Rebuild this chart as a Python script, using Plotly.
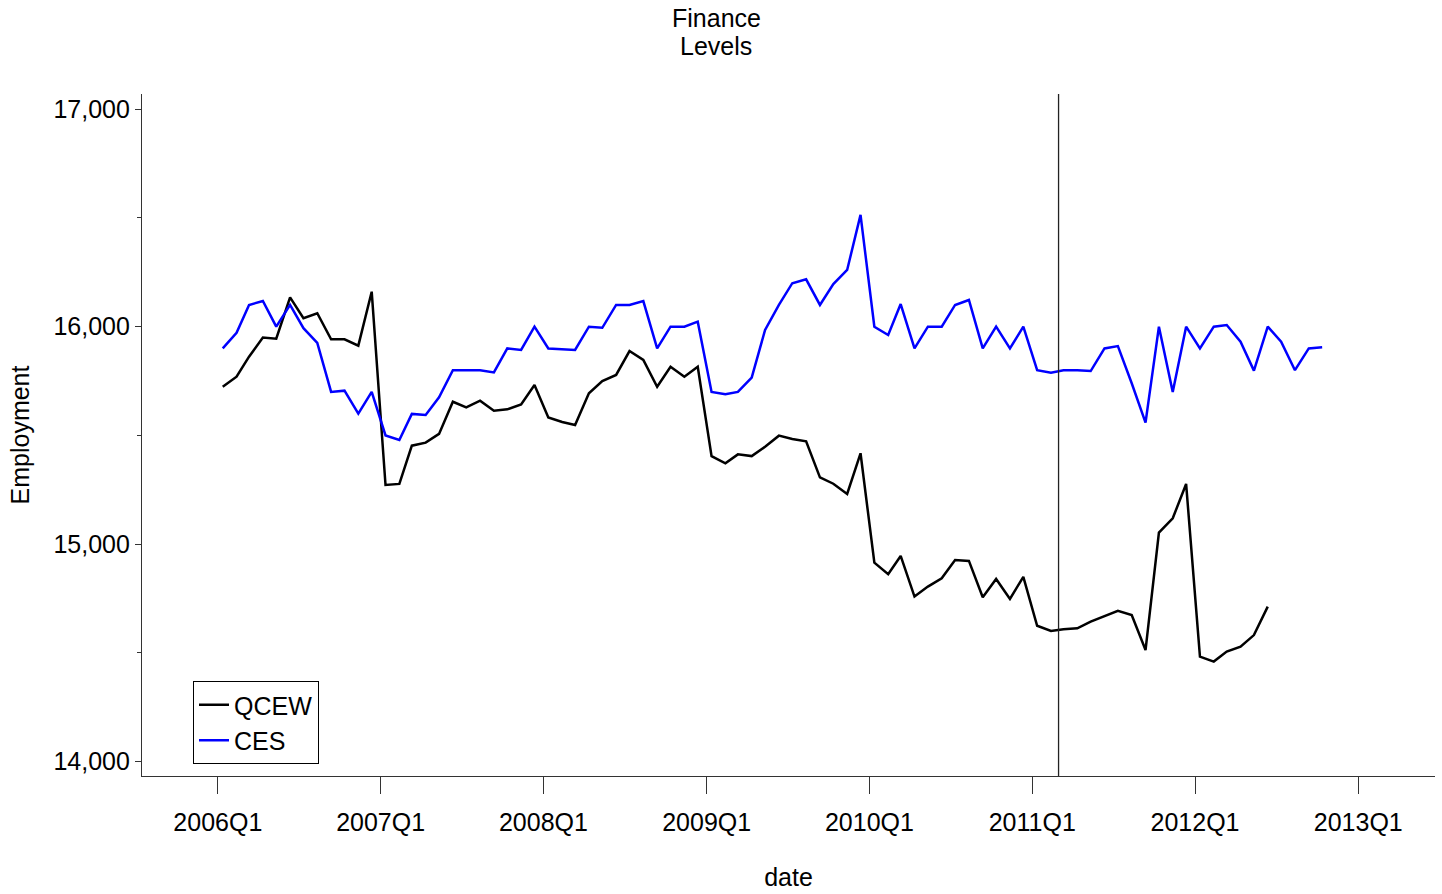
import pandas as pd
import plotly.graph_objects as go

# ---- data (thousands of employees), monthly from 2006m1 ----
qcew = [15724, 15770, 15862, 15950, 15945, 16135, 16039, 16062, 15942, 15942,
        15913, 16161, 15272, 15277, 15453, 15467, 15507, 15655, 15629, 15660,
        15614, 15620, 15643, 15732, 15583, 15562, 15548, 15694, 15750, 15778,
        15888, 15847, 15724, 15816, 15770, 15816, 15405, 15372, 15413, 15405,
        15448, 15499, 15484, 15473, 15307, 15278, 15231, 15418, 14915, 14862,
        14946, 14759, 14805, 14843, 14927, 14923, 14756, 14840, 14748, 14850,
        14625, 14601, 14609, 14613, 14644, 14670, 14694, 14674, 14513, 15053,
        15119, 15277, 14483, 14460, 14506, 14529, 14582, 14713]
ces = [15900, 15972, 16100, 16118, 16000, 16100, 15993, 15926, 15700, 15706,
       15600, 15700, 15500, 15479, 15599, 15594, 15675, 15800, 15800, 15800,
       15790, 15900, 15893, 16000, 15900, 15895, 15893, 16000, 15995, 16100,
       16100, 16118, 15900, 16000, 16000, 16023, 15700, 15689, 15700, 15766,
       15985, 16100, 16200, 16218, 16100, 16196, 16261, 16514, 16000, 15962,
       16104, 15900, 16000, 16000, 16100, 16123, 15900, 16000, 15900, 16000,
       15800, 15788, 15800, 15800, 15796, 15900, 15911, 15740, 15559, 16000,
       15700, 16000, 15900, 16000, 16008, 15931, 15798, 16000, 15931, 15800,
       15900, 15905]
start_month = "2006-01-01"
ref_day_offset = 11  # reference week around the 12th of each month
tick_dates = ["2006-01-01", "2007-01-01", "2008-01-01", "2009-01-01",
              "2010-01-01", "2011-01-01", "2012-01-01", "2013-01-01"]
tick_labels = ["2006Q1", "2007Q1", "2008Q1", "2009Q1",
               "2010Q1", "2011Q1", "2012Q1", "2013Q1"]
y_ticks = [14000, 15000, 16000, 17000]
vline_date = "2011-03-01"
title_lines = ["Finance", "Levels"]

def months(n):
    return pd.date_range(start_month, periods=n, freq="MS") + pd.Timedelta(days=ref_day_offset)

x_q = months(len(qcew))
x_c = months(len(ces))

FONT = "Liberation Sans, Arial, Helvetica, sans-serif"
W, H = 1442, 894
L, R, T, B = 142, 1435, 94, 776   # plot area (page px)

def py(page_y):
    return (B - page_y) / (B - T)

def px(page_x):
    return (page_x - L) / (R - L)

fig = go.Figure()
fig.add_trace(go.Scatter(x=x_q, y=qcew, mode="lines", name="QCEW",
                         line=dict(color="#000000", width=2.5)))
fig.add_trace(go.Scatter(x=x_c, y=ces, mode="lines", name="CES",
                         line=dict(color="#0000ff", width=2.5)))

fig.add_shape(type="line", xref="x", yref="paper", x0=vline_date, x1=vline_date,
              y0=0, y1=1, line=dict(color="#222222", width=1.3))

for txt, yy in zip(title_lines, [18, 46]):
    fig.add_annotation(text=txt, xref="paper", yref="paper", x=px(716), y=py(yy),
                       xanchor="center", yanchor="middle", showarrow=False,
                       font=dict(size=25, family=FONT, color="black"))

fig.update_layout(
    width=W, height=H,
    margin=dict(l=L, r=W - R, t=T, b=H - B, pad=0),
    paper_bgcolor="white", plot_bgcolor="white",
    font=dict(family=FONT, size=25, color="black"),
    showlegend=True,
    legend=dict(x=px(193), y=py(681), xanchor="left", yanchor="top",
                bordercolor="black", borderwidth=1, bgcolor="white",
                font=dict(size=25, family=FONT, color="black"),
                itemwidth=30, tracegroupgap=0),
    xaxis=dict(type="date", range=["2005-07-15", "2013-06-22"],
               tickvals=tick_dates, ticktext=tick_labels,
               ticks="outside", ticklen=17, tickwidth=1, tickcolor="#333333",
               ticklabelstandoff=7,
               showline=True, linecolor="#333333", linewidth=1.3,
               showgrid=False, zeroline=False, mirror=False,
               tickfont=dict(size=25, family=FONT, color="black"),
               title=dict(text="date", font=dict(size=25, family=FONT, color="black"), standoff=33)),
    yaxis=dict(range=[13934, 17070], tickvals=y_ticks, tickformat=",d",
               ticks="outside", ticklen=6, tickwidth=1, tickcolor="#333333",
               minor=dict(dtick=500, tick0=0, ticks="outside", ticklen=4, tickcolor="#333333"),
               showline=True, linecolor="#333333", linewidth=1.3,
               showgrid=False, zeroline=False,
               tickfont=dict(size=25, family=FONT, color="black"),
               title=dict(text="Employment", font=dict(size=25, family=FONT, color="black"), standoff=16)),
)

fig.write_html("out.html", config={"displayModeBar": False},
               post_script="document.body.style.margin='0';document.body.style.overflow='hidden';")
